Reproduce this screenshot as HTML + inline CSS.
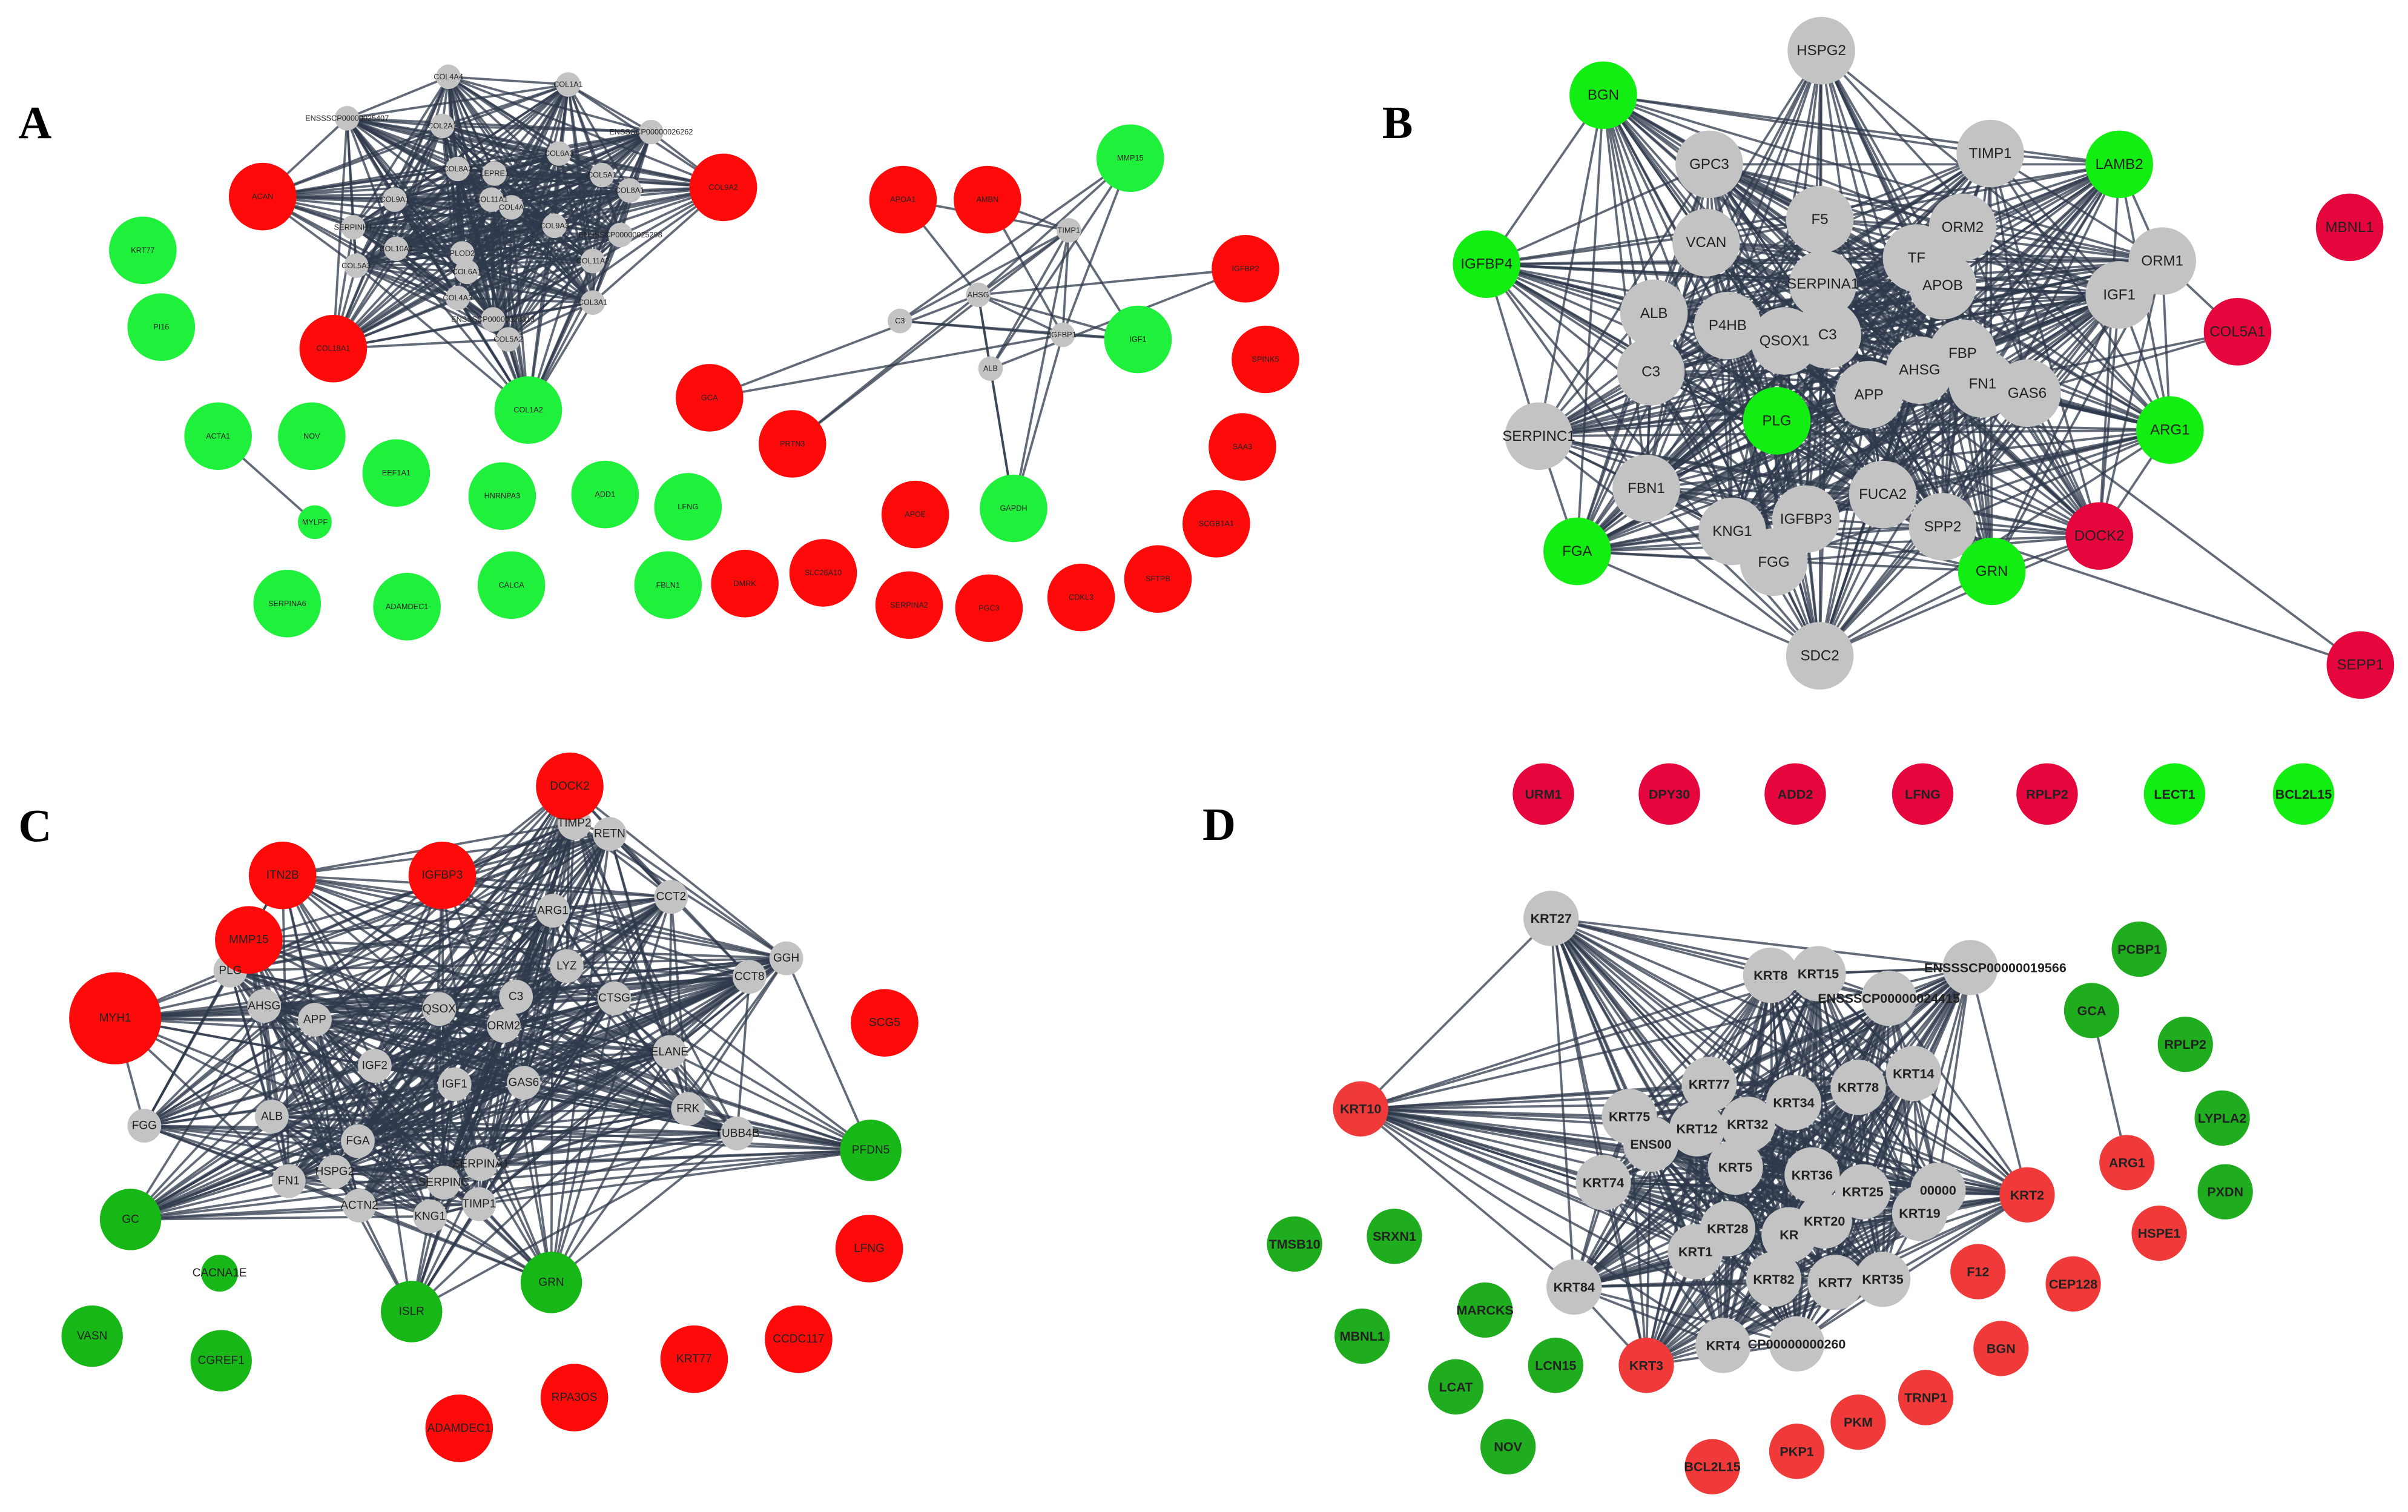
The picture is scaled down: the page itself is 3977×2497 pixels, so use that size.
<!DOCTYPE html>
<html><head><meta charset="utf-8"><style>
html,body{margin:0;padding:0;background:#fff}
svg{display:block}
text{font-family:"Liberation Sans",sans-serif;text-anchor:middle;dominant-baseline:central;fill:#222}
.pl{font-family:"Liberation Serif",serif;font-weight:bold;font-size:30px;fill:#000;text-anchor:start}
.fa{font-size:5px}.fb{font-size:9.5px}.fc{font-size:7.5px}.fd{font-size:8.5px;font-weight:bold}
</style></head><body>
<svg id="s" width="3977" height="2497" viewBox="0 0 1568 984.5" preserveAspectRatio="none" xmlns="http://www.w3.org/2000/svg">
<g id="E" stroke="#2f394c" stroke-opacity="0.75" stroke-width="1.5"></g>
<g id="N"></g>
<g id="T">
<text class="pl" x="12" y="80">A</text>
<text class="pl" x="900" y="80">B</text>
<text class="pl" x="12" y="538">C</text>
<text class="pl" x="783" y="537">D</text>

<text class="fa cA g r8" x="292" y="50">COL4A4</text>
<text class="fa cA g r8" x="370" y="55">COL1A1</text>
<text class="fa cA g r8" x="226" y="77">ENSSSCP00000025407</text>
<text class="fa cA g r8" x="288" y="82">COL2A1</text>
<text class="fa cA g r8" x="424" y="86">ENSSSCP00000026262</text>
<text class="fa cA g r8" x="364" y="100">COL6A3</text>
<text class="fa cA g r8" x="298" y="110">COL8A2</text>
<text class="fa cA g r8" x="322" y="113">LEPRE1</text>
<text class="fa cA g r8" x="320" y="130">COL11A1</text>
<text class="fa cA g r8" x="333" y="135">COL4A</text>
<text class="fa cA g r8" x="392" y="114">COL5A1</text>
<text class="fa cA g r8" x="410" y="124">COL8A1</text>
<text class="fa cA g r8" x="257" y="130">COL9A1</text>
<text class="fa cA g r8" x="230" y="148">SERPINH1</text>
<text class="fa cA g r8" x="361" y="147">COL9A3</text>
<text class="fa cA g r8" x="404" y="153">ENSSSCP00000025298</text>
<text class="fa cA g r8" x="258" y="162">COL10A1</text>
<text class="fa cA g r8" x="301" y="165">PLOD2</text>
<text class="fa cA g r8" x="232" y="173">COL5A3</text>
<text class="fa cA g r8" x="304" y="177">COL6A1</text>
<text class="fa cA g r8" x="386" y="170">COL11A2</text>
<text class="fa cA g r8" x="298" y="194">COL4A3</text>
<text class="fa cA g r8" x="386" y="197">COL3A1</text>
<text class="fa cA g r8" x="321" y="208">ENSSSCP00000026313</text>
<text class="fa cA g r8" x="331" y="221">COL5A2</text>
<text class="fa eA rA r22" x="171" y="128">ACAN</text>
<text class="fa eA rA r22" x="471" y="122">COL9A2</text>
<text class="fa eA rA r22" x="217" y="227">COL18A1</text>
<text class="fa eA gA r22" x="344" y="267">COL1A2</text>

<text class="fa cA2 g r8" x="586" y="209">C3</text>
<text class="fa cA2 g r8" x="637" y="192">AHSG</text>
<text class="fa cA2 g r8" x="696" y="150">TIMP1</text>
<text class="fa cA2 g r8" x="692" y="218">IGFBP1</text>
<text class="fa cA2 g r8" x="645" y="240">ALB</text>
<text class="fa eA2 rA r22" x="588" y="130">APOA1</text>
<text class="fa eA2 rA r22" x="643" y="130">AMBN</text>
<text class="fa eA2 rA r22" x="811" y="175">IGFBP2</text>
<text class="fa eA2 rA r22" x="462" y="259">GCA</text>
<text class="fa eA2 rA r22" x="516" y="289">PRTN3</text>
<text class="fa eA2 gA r22" x="736" y="103">MMP15</text>
<text class="fa eA2 gA r22" x="741" y="221">IGF1</text>
<text class="fa eA2 gA r22" x="660" y="331">GAPDH</text>

<text class="fa rA r22" x="824" y="234">SPINK5</text>
<text class="fa rA r22" x="809" y="291">SAA3</text>
<text class="fa rA r22" x="596" y="335">APOE</text>
<text class="fa rA r22" x="792" y="341">SCGB1A1</text>
<text class="fa rA r22" x="754" y="377">SFTPB</text>
<text class="fa rA r22" x="704" y="389">CDKL3</text>
<text class="fa rA r22" x="644" y="396">PGC3</text>
<text class="fa rA r22" x="592" y="394">SERPINA2</text>
<text class="fa rA r22" x="536" y="373">SLC26A10</text>
<text class="fa rA r22" x="485" y="380">DMRK</text>
<text class="fa gA r22" x="93" y="163">KRT77</text>
<text class="fa gA r22" x="105" y="213">PI16</text>
<text class="fa eA3 gA r22" x="142" y="284">ACTA1</text>
<text class="fa gA r22" x="203" y="284">NOV</text>
<text class="fa gA r22" x="258" y="308">EEF1A1</text>
<text class="fa gA r22" x="327" y="323">HNRNPA3</text>
<text class="fa gA r22" x="394" y="322">ADD1</text>
<text class="fa gA r22" x="448" y="330">LFNG</text>
<text class="fa cA3 gA r11" x="205" y="340">MYLPF</text>
<text class="fa gA r22" x="187" y="393">SERPINA6</text>
<text class="fa gA r22" x="265" y="395">ADAMDEC1</text>
<text class="fa gA r22" x="333" y="381">CALCA</text>
<text class="fa gA r22" x="435" y="381">FBLN1</text>

<text class="fb cB g r22" x="1186" y="33">HSPG2</text>
<text class="fb cB g r22" x="1113" y="107">GPC3</text>
<text class="fb cB g r22" x="1296" y="100">TIMP1</text>
<text class="fb cB g r22" x="1185" y="143">F5</text>
<text class="fb cB g r22" x="1248" y="168">TF</text>
<text class="fb cB g r22" x="1278" y="148">ORM2</text>
<text class="fb cB g r22" x="1111" y="158">VCAN</text>
<text class="fb cB g r22" x="1408" y="170">ORM1</text>
<text class="fb cB g r22" x="1190" y="218">C3</text>
<text class="fb cB g r22" x="1187" y="185">SERPINA1</text>
<text class="fb cB g r22" x="1265" y="186">APOB</text>
<text class="fb cB g r22" x="1380" y="192">IGF1</text>
<text class="fb cB g r22" x="1077" y="204">ALB</text>
<text class="fb cB g r22" x="1125" y="212">P4HB</text>
<text class="fb cB g r22" x="1162" y="222">QSOX1</text>
<text class="fb cB g r22" x="1278" y="230">FBP</text>
<text class="fb cB g r22" x="1250" y="241">AHSG</text>
<text class="fb cB g r22" x="1075" y="242">C3</text>
<text class="fb cB g r22" x="1217" y="257">APP</text>
<text class="fb cB g r22" x="1291" y="250">FN1</text>
<text class="fb cB g r22" x="1320" y="256">GAS6</text>
<text class="fb cB g r22" x="1002" y="284">SERPINC1</text>
<text class="fb cB g r22" x="1072" y="318">FBN1</text>
<text class="fb cB g r22" x="1226" y="322">FUCA2</text>
<text class="fb cB g r22" x="1128" y="346">KNG1</text>
<text class="fb cB g r22" x="1176" y="338">IGFBP3</text>
<text class="fb cB g r22" x="1265" y="343">SPP2</text>
<text class="fb cB g r22" x="1155" y="366">FGG</text>
<text class="fb cB g r22" x="1185" y="427">SDC2</text>
<text class="fb cB gB r22" x="1044" y="62">BGN</text>
<text class="fb cB gB r22" x="1380" y="107">LAMB2</text>
<text class="fb cB gB r22" x="968" y="172">IGFBP4</text>
<text class="fb cB gB r22" x="1157" y="274">PLG</text>
<text class="fb cB gB r22" x="1413" y="280">ARG1</text>
<text class="fb cB gB r22" x="1027" y="359">FGA</text>
<text class="fb cB gB r22" x="1297" y="372">GRN</text>
<text class="fb cB mB r22" x="1367" y="349">DOCK2</text>
<text class="fb mB r22" x="1530" y="148">MBNL1</text>
<text class="fb eB2 mB r22" x="1457" y="216">COL5A1</text>
<text class="fb mB r22" x="1537" y="433">SEPP1</text>

<text class="fc cC g r11" x="374" y="536">TIMP2</text>
<text class="fc cC g r11" x="397" y="543">RETN</text>
<text class="fc cC g r11" x="437" y="584">CCT2</text>
<text class="fc cC g r11" x="360" y="593">ARG1</text>
<text class="fc cC g r11" x="512" y="624">GGH</text>
<text class="fc cC g r11" x="369" y="629">LYZ</text>
<text class="fc cC g r11" x="488" y="636">CCT8</text>
<text class="fc cC g r11" x="336" y="649">C3</text>
<text class="fc cC g r11" x="400" y="650">CTSG</text>
<text class="fc cC g r11" x="286" y="657">QSOX</text>
<text class="fc cC g r11" x="150" y="632">PLG</text>
<text class="fc cC g r11" x="172" y="655">AHSG</text>
<text class="fc cC g r11" x="205" y="664">APP</text>
<text class="fc cC g r11" x="328" y="668">ORM2</text>
<text class="fc cC g r11" x="436" y="685">ELANE</text>
<text class="fc cC g r11" x="244" y="694">IGF2</text>
<text class="fc cC g r11" x="296" y="706">IGF1</text>
<text class="fc cC g r11" x="341" y="705">GAS6</text>
<text class="fc cC g r11" x="448" y="722">FRK</text>
<text class="fc cC g r11" x="177" y="727">ALB</text>
<text class="fc cC g r11" x="94" y="733">FGG</text>
<text class="fc cC g r11" x="480" y="738">TUBB4B</text>
<text class="fc cC g r11" x="233" y="743">FGA</text>
<text class="fc cC g r11" x="313" y="758">SERPINA1</text>
<text class="fc cC g r11" x="289" y="770">SERPINC</text>
<text class="fc cC g r11" x="218" y="763">HSPG2</text>
<text class="fc cC g r11" x="188" y="769">FN1</text>
<text class="fc cC g r11" x="280" y="792">KNG1</text>
<text class="fc cC g r11" x="312" y="784">TIMP1</text>
<text class="fc cC g r11" x="234" y="785">ACTN2</text>
<text class="fc eC rC r22" x="371" y="512">DOCK2</text>
<text class="fc eC rC r22" x="184" y="570">ITN2B</text>
<text class="fc eC rC r22" x="288" y="570">IGFBP3</text>
<text class="fc eC rC r22" x="162" y="612">MMP15</text>
<text class="fc eC rC r30" x="75" y="663">MYH1</text>
<text class="fc rC r22" x="576" y="666">SCG5</text>
<text class="fc rC r22" x="566" y="813">LFNG</text>
<text class="fc rC r22" x="520" y="872">CCDC117</text>
<text class="fc rC r22" x="452" y="885">KRT77</text>
<text class="fc rC r22" x="374" y="910">RPA3OS</text>
<text class="fc rC r22" x="299" y="930">ADAMDEC1</text>
<text class="fc eC gC r20" x="567" y="749">PFDN5</text>
<text class="fc eC gC r20" x="85" y="794">GC</text>
<text class="fc eC gC r20" x="359" y="835">GRN</text>
<text class="fc eC gC r20" x="268" y="854">ISLR</text>
<text class="fc gC r12" x="143" y="829">CACNA1E</text>
<text class="fc gC r20" x="60" y="870">VASN</text>
<text class="fc gC r20" x="144" y="886">CGREF1</text>

<text class="fd mB r20" x="1005" y="517">URM1</text>
<text class="fd mB r20" x="1087" y="517">DPY30</text>
<text class="fd mB r20" x="1169" y="517">ADD2</text>
<text class="fd mB r20" x="1252" y="517">LFNG</text>
<text class="fd mB r20" x="1333" y="517">RPLP2</text>
<text class="fd gB r20" x="1416" y="517">LECT1</text>
<text class="fd gB r20" x="1500" y="517">BCL2L15</text>
<text class="fd cD g r18" x="1010" y="598">KRT27</text>
<text class="fd cD g r18" x="1153" y="635">KRT8</text>
<text class="fd cD g r18" x="1184" y="634">KRT15</text>
<text class="fd cD g r18" x="1283" y="630" style="text-anchor:start" dx="-30">ENSSSCP00000019566</text>
<text class="fd cD g r18" x="1230" y="650">ENSSSCP00000024415</text>
<text class="fd cD g r18" x="1061" y="727">KRT75</text>
<text class="fd cD g r18" x="1113" y="706">KRT77</text>
<text class="fd cD g r18" x="1210" y="708">KRT78</text>
<text class="fd cD g r18" x="1246" y="699">KRT14</text>
<text class="fd cD g r18" x="1168" y="718">KRT34</text>
<text class="fd cD g r18" x="1075" y="745">ENS00</text>
<text class="fd cD g r18" x="1105" y="735">KRT12</text>
<text class="fd cD g r18" x="1138" y="732">KRT32</text>
<text class="fd cD g r18" x="1044" y="770">KRT74</text>
<text class="fd cD g r18" x="1130" y="760">KRT5</text>
<text class="fd cD g r18" x="1180" y="765">KRT36</text>
<text class="fd cD g r18" x="1213" y="776">KRT25</text>
<text class="fd cD g r18" x="1262" y="775">00000</text>
<text class="fd cD g r18" x="1250" y="790">KRT19</text>
<text class="fd cD g r18" x="1125" y="800">KRT28</text>
<text class="fd cD g r18" x="1188" y="795">KRT20</text>
<text class="fd cD g r18" x="1165" y="804">KR</text>
<text class="fd cD g r18" x="1104" y="815">KRT1</text>
<text class="fd cD g r18" x="1155" y="833">KRT82</text>
<text class="fd cD g r18" x="1195" y="835">KRT7</text>
<text class="fd cD g r18" x="1226" y="833">KRT35</text>
<text class="fd cD g r18" x="1025" y="838">KRT84</text>
<text class="fd cD g r18" x="1122" y="876">KRT4</text>
<text class="fd cD g r18" x="1170" y="875">CP00000000260</text>
<text class="fd eD rD r18" x="886" y="722">KRT10</text>
<text class="fd eD rD r18" x="1320" y="778">KRT2</text>
<text class="fd eD rD r18" x="1072" y="889">KRT3</text>
<text class="fd rD r18" x="1385" y="757">ARG1</text>
<text class="fd rD r18" x="1406" y="803">HSPE1</text>
<text class="fd rD r18" x="1288" y="828">F12</text>
<text class="fd rD r18" x="1350" y="836">CEP128</text>
<text class="fd rD r18" x="1303" y="878">BGN</text>
<text class="fd rD r18" x="1254" y="910">TRNP1</text>
<text class="fd rD r18" x="1210" y="926">PKM</text>
<text class="fd rD r18" x="1170" y="945">PKP1</text>
<text class="fd rD r18" x="1115" y="955">BCL2L15</text>
<text class="fd gD r18" x="1393" y="618">PCBP1</text>
<text class="fd gD r18" x="1362" y="658">GCA</text>
<text class="fd gD r18" x="1423" y="680">RPLP2</text>
<text class="fd gD r18" x="1447" y="728">LYPLA2</text>
<text class="fd gD r18" x="1449" y="776">PXDN</text>
<text class="fd gD r18" x="843" y="810">TMSB10</text>
<text class="fd gD r18" x="908" y="805">SRXN1</text>
<text class="fd gD r18" x="967" y="853">MARCKS</text>
<text class="fd gD r18" x="887" y="870">MBNL1</text>
<text class="fd gD r18" x="1013" y="889">LCN15</text>
<text class="fd gD r18" x="948" y="903">LCAT</text>
<text class="fd gD r18" x="982" y="942">NOV</text>
</g>
</svg>
<script>
(function(){
var NS="http://www.w3.org/2000/svg";
var col={g:"#c3c3c3",rA:"#ff0a0a",gA:"#1ff03c",gB:"#12ee12",mB:"#e4063c",rC:"#ff0a0a",gC:"#17b717",rD:"#f03a3a",gD:"#1fad1f"};
var ts=document.querySelectorAll("#T text:not(.pl)");var nodes=[];
var N=document.getElementById("N"),E=document.getElementById("E");
var seed=7;function rnd(){seed=(seed*16807)%2147483647;return seed/2147483647;}
ts.forEach(function(t){
 var x=+t.getAttribute("x"),y=+t.getAttribute("y"),c="g",r=20,cl=[],el=[];
 t.classList.forEach(function(k){if(col[k])c=k;if(/^r\d+$/.test(k))r=+k.slice(1);if(k[0]=="c"&&k.length>1)cl.push(k.slice(1));if(k[0]=="e"&&k.length>1)el.push(k.slice(1));});
 var ci=document.createElementNS(NS,"circle");ci.setAttribute("cx",x);ci.setAttribute("cy",y);ci.setAttribute("r",r);ci.setAttribute("fill",col[c]);N.appendChild(ci);
 nodes.push({x:x,y:y,c:cl,e:el});
});
function line(a,b){var l=document.createElementNS(NS,"line");l.setAttribute("x1",a.x);l.setAttribute("y1",a.y);l.setAttribute("x2",b.x);l.setAttribute("y2",b.y);E.appendChild(l);}
var P={A:[1,0.85],A2:[0.7,0.45],A3:[1,1],B:[0.75,0.6],C:[0.75,0.6],D:[0.97,0.92],B2:[0,0.12]};
for(var i=0;i<nodes.length;i++)for(var j=i+1;j<nodes.length;j++){
 var a=nodes[i],b=nodes[j],done=false;
 for(var k in P){if(done)break;
  var ac=a.c.indexOf(k)>=0,bc=b.c.indexOf(k)>=0,ae=a.e.indexOf(k)>=0,be=b.e.indexOf(k)>=0;
  if(ac&&bc&&rnd()<P[k][0]){line(a,b);done=true;}
  else if(((ac&&be)||(ae&&bc))&&rnd()<P[k][1]){line(a,b);done=true;}
 }
}
function f(x,y){var best=null,d=1e9;nodes.forEach(function(n){var dd=(n.x-x)*(n.x-x)+(n.y-y)*(n.y-y);if(dd<d){d=dd;best=n;}});return best;}
[[1537,433,1265,343],[1537,433,1291,250],[1362,658,1385,757],[1457,216,1408,170],[1457,216,1291,250],[1457,216,1320,256],[374,536,371,512]].forEach(function(e){line(f(e[0],e[1]),f(e[2],e[3]));});
})();
</script>
</body></html>
